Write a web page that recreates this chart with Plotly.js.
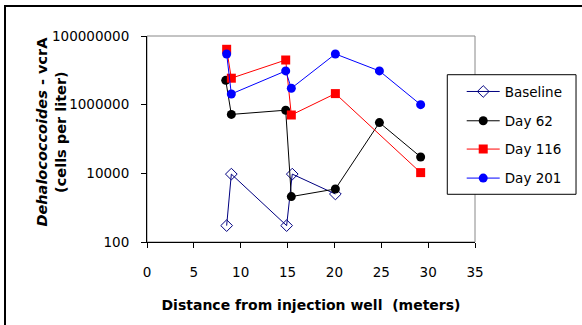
<!DOCTYPE html>
<html>
<head>
<meta charset="utf-8">
<script src="https://cdn.plot.ly/plotly-3.0.1.min.js"></script>
<style>
html,body{margin:0;padding:0;background:#fff;overflow:hidden;}
#wrap{position:relative;width:582px;height:325px;overflow:hidden;}
#chart{width:582px;height:325px;}
#frame{position:absolute;left:4px;top:5px;width:700px;height:500px;border-left:2px solid #000;border-top:2px solid #000;pointer-events:none;}
</style>
</head>
<body>
<div id="wrap"><div id="chart"></div><div id="frame"></div></div>
<script>
// Data
const seriesNames = ["Baseline", "Day 62", "Day 116", "Day 201"];

const baselineX = [8.5, 9.0, 14.9, 15.5, 20.1];
const baselineY = [300, 9500, 300, 9500, 2500];

const day62X = [8.4, 9.0, 14.8, 15.4, 20.1, 24.8, 29.2];
const day62Y = [5100000, 520000, 690000, 2100, 3500, 300000, 30000];

const day116X = [8.5, 9.0, 14.8, 15.4, 20.1, 29.2];
const day116Y = [41000000, 5900000, 20000000, 500000, 2100000, 10500];

const day201X = [8.5, 9.0, 14.8, 15.4, 20.1, 24.8, 29.2];
const day201Y = [30000000, 2050000, 9600000, 3000000, 30000000, 9600000, 1000000];

const xTicks = [0, 5, 10, 15, 20, 25, 30, 35];
const yTickVals = [100, 10000, 1000000, 100000000];
const yTickText = ["100", "10000", "1000000", "100000000"];

const font = "DejaVu Sans, sans-serif";

const traces = [
  {x: baselineX, y: baselineY, name: seriesNames[0], mode: "lines+markers", legend: "legend",
   line: {color: "#000080", width: 1},
   marker: {symbol: "diamond-open", size: 9, color: "#000080", line: {width: 1}}},
  {x: day62X, y: day62Y, name: seriesNames[1], mode: "lines+markers", legend: "legend2",
   line: {color: "#000000", width: 1},
   marker: {symbol: "circle", size: 9, color: "#000000"}},
  {x: day116X, y: day116Y, name: seriesNames[2], mode: "lines+markers", legend: "legend3",
   line: {color: "#FF0000", width: 1},
   marker: {symbol: "square", size: 9, color: "#FF0000"}},
  {x: day201X, y: day201Y, name: seriesNames[3], mode: "lines+markers", legend: "legend4",
   line: {color: "#0000FF", width: 1},
   marker: {symbol: "circle", size: 9, color: "#0000FF"}}
];

function leg(y) {
  return {x: 0.9595, y: y, xanchor: "left", yanchor: "middle",
          bgcolor: "rgba(0,0,0,0)", borderwidth: 0, itemwidth: 33,
          font: {family: font, size: 13.5, color: "#000"}};
}

const layout = {
  width: 582, height: 325,
  margin: {l: 147, r: 107, t: 36, b: 83},
  paper_bgcolor: "#fff", plot_bgcolor: "#fff",
  font: {family: font, size: 13.5, color: "#000"},
  showlegend: true,
  legend: leg(0.7296),
  legend2: leg(0.5874),
  legend3: leg(0.4500),
  legend4: leg(0.3092),
  xaxis: {range: [0, 35], tickvals: xTicks, showgrid: false, zeroline: false,
          showline: true, linecolor: "#000", linewidth: 1,
          ticks: "outside", ticklen: 5, tickcolor: "#000", ticklabelstandoff: 13,
          tickfont: {family: font, size: 13.5},
          title: {text: "<b>Distance from injection well  (meters)</b>",
                  font: {family: font, size: 14}, standoff: 20}},
  yaxis: {type: "log", range: [2, 8], tickvals: yTickVals, ticktext: yTickText,
          showgrid: false, zeroline: false,
          showline: true, linecolor: "#000", linewidth: 1,
          ticks: "outside", ticklen: 5, tickcolor: "#000", ticklabelstandoff: 9,
          tickfont: {family: font, size: 13.5}},
  annotations: [
    {xref: "paper", yref: "paper", x: -0.2896, y: 0.536, xanchor: "center", yanchor: "middle",
     textangle: -90, showarrow: false,
     text: "<b><i>Dehalococcoides</i> - vcrA</b><br><b>(cells per liter)</b>",
     font: {family: font, size: 14.5, color: "#000"}}
  ],
  shapes: [
    {type: "rect", xref: "paper", yref: "paper", x0: 0, x1: 1, y0: 0, y1: 1,
     line: {color: "#888", width: 1}, layer: "below"},
    {type: "rect", xref: "paper", yref: "paper", x0: 0.9155, x1: 1.308, y0: 0.2316, y1: 0.8121,
     fillcolor: "#fff", line: {color: "#000", width: 1}, layer: "above"}
  ]
};

Plotly.newPlot("chart", traces, layout, {displayModeBar: false, staticPlot: true});
</script>
</body>
</html>
